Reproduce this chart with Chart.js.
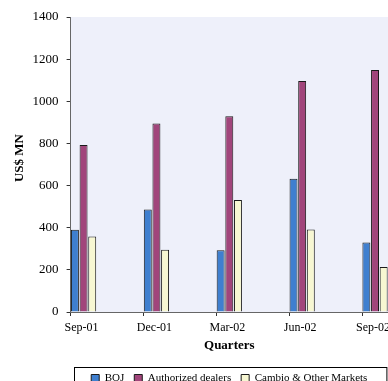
<!DOCTYPE html>
<html>
<head>
<meta charset="utf-8">
<script src="https://cdn.jsdelivr.net/npm/chart.js@4.4.1/dist/chart.umd.min.js"></script>
<style>
  html, body { margin: 0; padding: 0; background: #fff; overflow: hidden; }
  #wrap { position: relative; width: 388px; height: 394px; }
</style>
</head>
<body>
<div id="wrap"><canvas id="chart"></canvas></div>
<script>
  // quarterly flows, US$ MN
  var quarters = ['Sep-01', 'Dec-01', 'Mar-02', 'Jun-02', 'Sep-02'];
  var boj = [390, 487, 293, 632, 330];
  var dealers = [793, 894, 929, 1096, 1148];
  var cambio = [358, 295, 531, 391, 213];
  var yTicks = [0, 200, 400, 600, 800, 1000, 1200, 1400];

  // each group sits just right of its category tick
  var shift = 0.178;

  function points(arr) {
    return arr.map(function (v, i) { return { x: i, y: v }; });
  }

  var plotBg = {
    id: 'plotBg',
    beforeDraw: function (chart) {
      var a = chart.chartArea, ctx = chart.ctx;
      ctx.save();
      ctx.fillStyle = '#EEF0FA';
      ctx.fillRect(a.left, a.top, a.right - a.left, a.bottom - a.top);
      ctx.restore();
    }
  };

  var legendBox = {
    id: 'legendBox',
    afterDraw: function (chart) {
      var l = chart.legend, ctx = chart.ctx;
      ctx.save();
      ctx.strokeStyle = '#000';
      ctx.lineWidth = 1;
      ctx.strokeRect(Math.round(l.left) + 3.5, Math.round(l.top) + 4.5, l.width - 5, l.height);
      ctx.restore();
    }
  };

  var serif = 'Liberation Serif';

  new Chart(document.getElementById('chart'), {
    type: 'bar',
    data: {
      datasets: [{
        label: 'BOJ',
        data: points(boj),
        backgroundColor: '#3F7FCF',
        borderColor: '#1a1a1a',
        borderWidth: 1
      }, {
        label: 'Authorized dealers',
        data: points(dealers),
        backgroundColor: '#A1457B',
        borderColor: '#1a1a1a',
        borderWidth: 1
      }, {
        label: 'Cambio & Other Markets',
        data: points(cambio),
        backgroundColor: '#F7F7D2',
        borderColor: '#1a1a1a',
        borderWidth: 1
      }]
    },
    options: {
      responsive: true,
      maintainAspectRatio: false,
      animation: false,
      categoryPercentage: 0.356,
      barPercentage: 0.92,
      layout: { padding: { top: 17, left: 5, right: 0, bottom: 0 } },
      plugins: {
        tooltip: { enabled: false },
        legend: {
          position: 'bottom',
          fullSize: false,
          labels: {
            font: { family: serif, size: 11 },
            color: '#000',
            boxWidth: 8,
            boxHeight: 8,
            padding: 10,
            useBorderRadius: false
          }
        }
      },
      scales: {
        x: {
          type: 'linear',
          offset: false,
          min: -shift,
          max: 4.178,
          afterBuildTicks: function (scale) {
            scale.ticks = quarters.map(function (q, i) { return { value: i - shift }; });
          },
          ticks: {
            callback: function (value, index) { return quarters[index]; },
            font: { family: serif, size: 12, lineHeight: 1 },
            color: '#000',
            labelOffset: 11,
            maxRotation: 0,
            padding: 6
          },
          grid: { offset: false, drawOnChartArea: false, color: '#333', tickLength: 4 },
          border: { color: '#666', width: 1 },
          title: {
            display: true,
            text: 'Quarters',
            font: { family: serif, size: 13, weight: 'bold', lineHeight: 1 },
            color: '#000',
            padding: { top: -1, bottom: 11 }
          }
        },
        y: {
          min: 0,
          max: 1400,
          afterBuildTicks: function (scale) {
            scale.ticks = yTicks.map(function (v) { return { value: v }; });
          },
          ticks: {
            callback: function (value) { return String(value); },
            font: { family: serif, size: 13 },
            color: '#000',
            padding: 8
          },
          grid: { drawOnChartArea: false, color: '#333', tickLength: 4 },
          border: { color: '#666', width: 1 },
          title: {
            display: true,
            text: '    US$ MN',
            font: { family: serif, size: 13, weight: 'bold' },
            color: '#000',
            padding: { top: 7, bottom: -3 }
          }
        }
      }
    },
    plugins: [plotBg, legendBox]
  });
</script>
</body>
</html>
